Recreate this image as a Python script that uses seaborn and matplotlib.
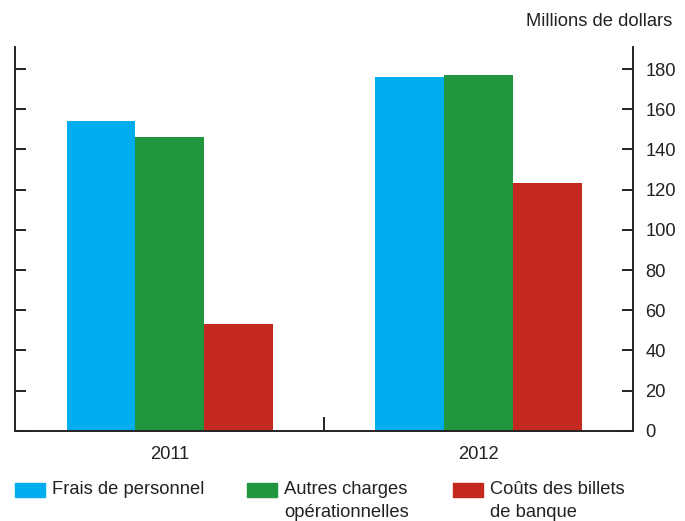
import numpy as np
import pandas as pd
import matplotlib
matplotlib.use("Agg")
import matplotlib.pyplot as plt
from matplotlib.ticker import FixedLocator
import seaborn as sns

YEARS = ["2011", "2012"]
SERIES = ["Frais de personnel", "Autres charges\nopérationnelles", "Coûts des billets\nde banque"]
FRAIS = [154, 176]
AUTRES = [146, 177]
BILLETS = [53.3, 123.4]
COLORS = ["#00AEEF", "#21963F", "#C4291F"]
Y_TICKS = [0, 20, 40, 60, 80, 100, 120, 140, 160, 180]

sns.set_theme(style="white")
plt.rcParams["font.family"] = ["Liberation Sans", "DejaVu Sans"]
TXT = "#222222"
W, H = 685, 521

df = pd.DataFrame({
    "year": YEARS * 3,
    "series": [SERIES[0]] * 2 + [SERIES[1]] * 2 + [SERIES[2]] * 2,
    "value": FRAIS + AUTRES + BILLETS,
})

fig = plt.figure(figsize=(6.85, 5.21), dpi=100)
ax = fig.add_axes([0.022, 0.173, 0.902, 0.737])

sns.barplot(data=df, x="year", y="value", hue="series", palette=COLORS,
            saturation=1, width=0.667, ax=ax, legend=False, linewidth=0)

ax.set_xlim(-0.5, 1.5)
ax.set_ylim(0, 191)
ax.set_yticks(Y_TICKS)
ax.set_xlabel("")
ax.set_ylabel("")
for s in ["left", "right", "bottom"]:
    ax.spines[s].set_visible(True)
    ax.spines[s].set_color("#222222")
    ax.spines[s].set_linewidth(1.4)
ax.spines["top"].set_visible(False)

ax.tick_params(axis="y", left=True, right=True, labelleft=False, labelright=True,
               direction="in", length=8, width=1.4, color="#222222",
               labelsize=13.2, labelcolor=TXT, pad=9)
ax.tick_params(axis="x", which="major", length=0, labelsize=13.2, labelcolor=TXT, pad=11)
ax.xaxis.set_minor_locator(FixedLocator([0.5]))
ax.tick_params(axis="x", which="minor", bottom=True, direction="in", length=10,
               width=1.4, color="#222222")

fig.text(672 / W, 1 - 22 / H, "Millions de dollars", ha="right", va="center",
         fontsize=13.2, color=TXT)

# legend drawn by hand so the swatch sits on the first text line
LEG_X = [15, 247, 453]
for x0, color, label in zip(LEG_X, COLORS, SERIES):
    fig.patches.append(plt.Rectangle((x0 / W, 1 - 497 / H), 30 / W, 14 / H,
                                     color=color, transform=fig.transFigure))
    fig.text((x0 + 37) / W, 1 - 481 / H, label, ha="left", va="top",
             fontsize=13.2, color=TXT, linespacing=1.45)

fig.savefig("out.png", dpi=100)
